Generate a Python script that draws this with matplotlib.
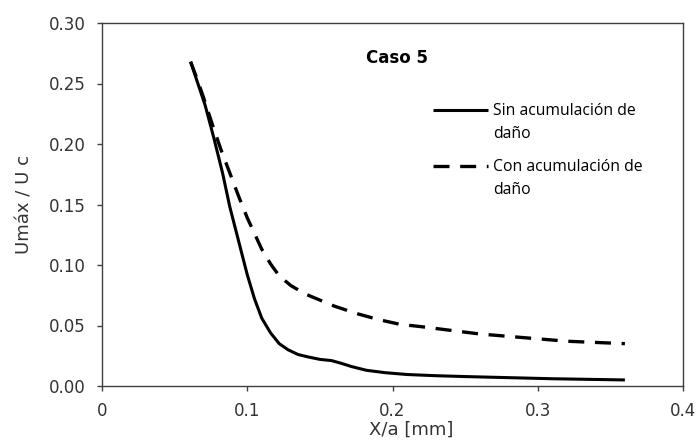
import matplotlib
matplotlib.use('Agg')
import matplotlib.pyplot as plt

# values
x_sin = [0.061, 0.066, 0.071, 0.077, 0.083, 0.088, 0.094, 0.100, 0.105, 0.110,
         0.116, 0.122, 0.128, 0.135, 0.142, 0.150, 0.158, 0.164, 0.172, 0.182,
         0.195, 0.210, 0.230, 0.250, 0.270, 0.290, 0.310, 0.330, 0.360]
y_sin = [0.268, 0.250, 0.232, 0.205, 0.176, 0.148, 0.120, 0.092, 0.072, 0.056,
         0.044, 0.035, 0.030, 0.026, 0.024, 0.022, 0.021, 0.019, 0.016, 0.013,
         0.011, 0.0095, 0.0085, 0.0078, 0.0072, 0.0066, 0.0060, 0.0056, 0.0050]

x_con = [0.061, 0.066, 0.070, 0.076, 0.082, 0.088, 0.094, 0.100, 0.105, 0.110,
         0.116, 0.122, 0.130, 0.140, 0.150, 0.160, 0.175, 0.190, 0.205, 0.220,
         0.240, 0.260, 0.280, 0.300, 0.320, 0.340, 0.360]
y_con = [0.268, 0.252, 0.238, 0.216, 0.195, 0.176, 0.157, 0.139, 0.126, 0.113,
         0.101, 0.091, 0.083, 0.076, 0.071, 0.066, 0.060, 0.055, 0.051, 0.049,
         0.046, 0.043, 0.041, 0.039, 0.037, 0.036, 0.035]

x_ticks = [0, 0.1, 0.2, 0.3, 0.4]
x_ticklabels = ['0', '0.1', '0.2', '0.3', '0.4']
y_ticks = [0.00, 0.05, 0.10, 0.15, 0.20, 0.25, 0.30]
y_ticklabels = ['0.00', '0.05', '0.10', '0.15', '0.20', '0.25', '0.30']

label_sin = 'Sin acumulación de'
label_con = 'Con acumulación de'
label_tail = 'daño'

fig = plt.figure(figsize=(6.96, 4.43), dpi=100)
ax = fig.add_axes([102/696, 1-386/443, (683-102)/696, (386-23)/443])

ax.plot(x_sin, y_sin, color='black', lw=2.2, solid_capstyle='butt', label=label_sin)
l2, = ax.plot(x_con, y_con, color='black', lw=2.4, label=label_con)
l2.set_dashes([4.8, 3.2])

ax.set_xlim(0, 0.4)
ax.set_ylim(0, 0.30)
ax.set_xticks(x_ticks)
ax.set_xticklabels(x_ticklabels)
ax.set_yticks(y_ticks)
ax.set_yticklabels(y_ticklabels)

for s in ax.spines.values():
    s.set_color('#404040')
    s.set_linewidth(1.0)
ax.tick_params(direction='out', length=3.6, width=1, color='#404040',
               labelsize=12, labelcolor='#333333')
ax.tick_params(axis='x', pad=8)
ax.tick_params(axis='y', pad=8)

ax.set_xlabel('X/a [mm]', fontsize=13, color='#333333')
ax.set_ylabel('Umáx / U c', fontsize=13, color='#333333')
ax.xaxis.set_label_coords(0.532, -0.095)
ax.yaxis.set_label_coords(-0.118, 0.5)

ax.text(0.508, 0.904, 'Caso 5', transform=ax.transAxes, ha='center', va='center',
        fontsize=12, fontweight='bold')

leg = ax.legend(loc='upper left', bbox_to_anchor=(0.5697, 0.779), frameon=False,
                handlelength=3.5, handletextpad=0.33, labelspacing=2.55,
                borderpad=0, borderaxespad=0,
                prop={'family': 'Open Sans', 'size': 11.3})

# second line of each legend entry, under the first one
fig.canvas.draw()
inv = fig.transFigure.inverted()
for t in leg.get_texts():
    bb = t.get_window_extent()
    x0, y0 = inv.transform((bb.x0, bb.y0 - 23))
    fig.text(x0, y0, label_tail, family='Open Sans', fontsize=11.3, va='bottom', ha='left')

fig.savefig('out.png', dpi=100)
